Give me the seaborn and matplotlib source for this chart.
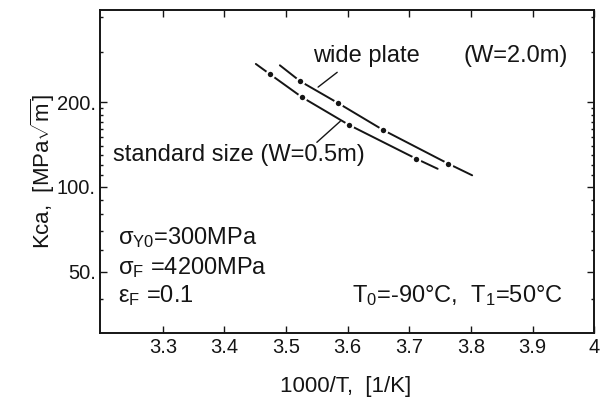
import matplotlib
matplotlib.use("Agg")
import matplotlib.pyplot as plt
import matplotlib.ticker as mticker
import seaborn as sns
import pandas as pd

# --- data ---
std_x = [3.474, 3.526, 3.602, 3.711]
std_y = [251, 208, 166, 126]
wide_x = [3.523, 3.585, 3.658, 3.763]
wide_y = [237, 198, 159, 121]
# drawn curves through the points (end points)
std_line_x = [3.451, 3.474, 3.526, 3.602, 3.711, 3.746]
std_line_y = [273, 251, 208, 166, 126, 116]
wide_line_x = [3.490, 3.523, 3.585, 3.658, 3.763, 3.802]
wide_line_y = [270, 237, 198, 159, 121, 110]

x_ticks = [3.3, 3.4, 3.5, 3.6, 3.7, 3.8, 3.9, 4.0]
x_tick_labels = ["3.3", "3.4", "3.5", "3.6", "3.7", "3.8", "3.9", "4"]
y_ticks = [50, 100, 200]
y_tick_labels = ["50.", "100.", "200."]
y_minor = [40, 60, 70, 80, 90, 110, 120, 130, 140, 150, 160, 170, 180, 190, 300, 400]

sns.set_style("ticks")
plt.rcParams["font.family"] = ["Liberation Sans", "DejaVu Sans"]
plt.rcParams["mathtext.fontset"] = "custom"
plt.rcParams["mathtext.rm"] = "Liberation Sans"
plt.rcParams["mathtext.it"] = "Liberation Sans:italic"
plt.rcParams["mathtext.sf"] = "Liberation Sans"

INK = "#151515"
fig = plt.figure(figsize=(6.02, 4.01), dpi=100)
ax = fig.add_axes([0.166, 0.170, 0.821, 0.805])

lines = pd.concat([
    pd.DataFrame({"x": std_line_x, "y": std_line_y, "s": "std"}),
    pd.DataFrame({"x": wide_line_x, "y": wide_line_y, "s": "wide"}),
])
pts = pd.concat([
    pd.DataFrame({"x": std_x, "y": std_y, "s": "std"}),
    pd.DataFrame({"x": wide_x, "y": wide_y, "s": "wide"}),
])
sns.lineplot(data=lines, x="x", y="y", units="s", estimator=None, sort=False,
             color=INK, lw=1.4, ax=ax, legend=False)
sns.scatterplot(data=pts, x="x", y="y", color=INK, s=30,
                edgecolor="white", linewidth=1.6, ax=ax, legend=False, zorder=5)

ax.set_yscale("log")
ax.set_xlim(3.198, 4.0)
ax.set_ylim(30.4, 424)
ax.set_xticks(x_ticks)
ax.set_xticklabels(x_tick_labels)
ax.set_yticks(y_ticks)
ax.set_yticklabels(y_tick_labels)
ax.yaxis.set_minor_locator(mticker.FixedLocator(y_minor))
ax.yaxis.set_minor_formatter(mticker.NullFormatter())
ax.xaxis.set_minor_locator(mticker.NullLocator())

ax.tick_params(which="both", direction="in", top=True, right=True,
               labelsize=14.5, colors=INK, width=1.0)
ax.tick_params(which="major", length=5)
ax.tick_params(which="minor", length=2.5)
ax.tick_params(axis="x", pad=4)
ax.tick_params(axis="y", pad=3)
for sp in ax.spines.values():
    sp.set_linewidth(1.4)
    sp.set_color(INK)

ax.set_xlabel("1000/T,  [1/K]", fontsize=16, color=INK)
ax.set_ylabel(r"Kca,  [MPa$\sqrt{\mathrm{m}}$]", fontsize=16, color=INK)
ax.xaxis.set_label_coords(0.498, -0.135)
ax.yaxis.set_label_coords(-0.086, 0.50)

fs = 17
ax.text(3.544, 291, "wide plate", fontsize=fs, va="center", ha="left", color=INK)
ax.text(3.788, 291, "(W=2.0m)", fontsize=fs, va="center", ha="left", color=INK)
ax.text(3.219, 130, "standard size (W=0.5m)", fontsize=fs, va="center", ha="left", color=INK)
ax.plot([3.552, 3.583], [226, 255], color=INK, lw=1.0)
ax.plot([3.550, 3.588], [144, 171], color=INK, lw=1.0)

ax.text(3.227, 66, r"σ$_{\mathrm{Y0}}$=300MPa", fontsize=fs, va="center", ha="left", color=INK)
ax.text(3.227, 51.7, r"σ$_{\mathrm{F}}$ =4200MPa", fontsize=fs, va="center", ha="left", color=INK)
ax.text(3.227, 41.2, r"ε$_{\mathrm{F}}$ =0.1", fontsize=fs, va="center", ha="left", color=INK)
ax.text(3.607, 41.2, r"T$_{\mathrm{0}}$=-90°C,  T$_{\mathrm{1}}$=50°C", fontsize=fs,
        va="center", ha="left", color=INK)

fig.savefig("out.png", dpi=100)
